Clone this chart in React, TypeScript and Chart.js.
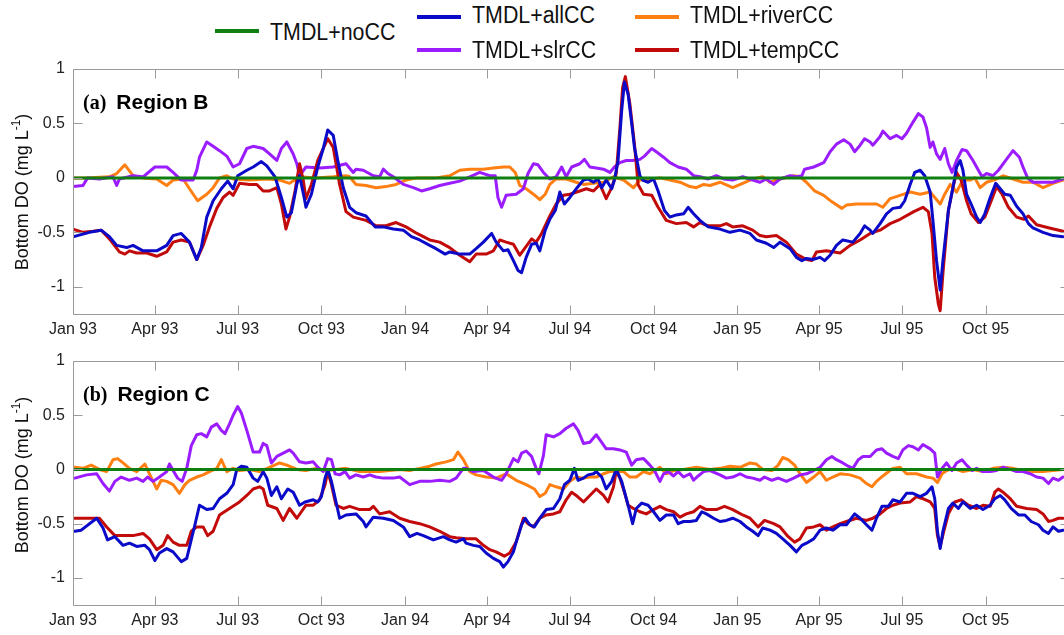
import React, { useEffect, useRef } from 'react';
import { Chart, registerables } from 'chart.js';

Chart.register(...registerables);

// ---------- DATA (day offsets from 1 Jan 1993, bottom DO difference in mg/L) ----------
const quarterTickDays = [0, 90, 181, 273, 365, 455, 546, 638, 730, 820, 911, 1003];
const quarterTickLabels = ['Jan 93', 'Apr 93', 'Jul 93', 'Oct 93', 'Jan 94', 'Apr 94', 'Jul 94', 'Oct 94', 'Jan 95', 'Apr 95', 'Jul 95', 'Oct 95'];
const yTickValues = [-1, -0.5, 0, 0.5, 1];
const yTickLabels = ['-1', '-0.5', '0', '0.5', '1'];
const seriesNames = ['TMDL+noCC', 'TMDL+allCC', 'TMDL+riverCC', 'TMDL+slrCC', 'TMDL+tempCC'];

const noCC = [[0, 0], [1095, 0]];

const regionB_allCC = [
  [0, -0.54], [18, -0.5], [31, -0.48], [40, -0.54], [48, -0.62], [59, -0.64], [66, -0.62], [77, -0.67], [92, -0.67], [103, -0.62],
  [110, -0.53], [119, -0.51], [128, -0.59], [136, -0.75], [141, -0.64], [147, -0.36], [154, -0.21], [163, -0.1], [170, -0.03], [176, -0.1],
  [181, 0.02], [191, 0.07], [198, 0.1], [207, 0.15], [213, 0.11], [222, 0.01], [229, -0.18], [235, -0.36], [240, -0.32], [246, -0.06],
  [249, 0.02], [254, -0.18], [256, -0.27], [262, -0.15], [269, 0.1], [275, 0.27], [280, 0.44], [286, 0.39], [291, 0.16], [297, -0.09],
  [304, -0.27], [311, -0.32], [322, -0.35], [332, -0.45], [341, -0.45], [352, -0.47], [363, -0.48], [372, -0.54], [381, -0.57], [392, -0.62],
  [399, -0.65], [409, -0.7], [414, -0.68], [425, -0.7], [436, -0.7], [443, -0.65], [451, -0.59], [460, -0.51], [465, -0.59], [473, -0.67],
  [478, -0.66], [484, -0.76], [489, -0.85], [493, -0.87], [498, -0.73], [504, -0.61], [509, -0.6], [513, -0.67], [519, -0.48], [524, -0.38],
  [530, -0.3], [535, -0.13], [540, -0.24], [546, -0.18], [553, -0.1], [561, -0.02], [566, -0.01], [572, -0.04], [577, -0.01], [581, -0.09],
  [586, -0.02], [592, -0.1], [595, -0.02], [599, 0.16], [603, 0.62], [606, 0.88], [610, 0.77], [614, 0.5], [617, 0.28], [623, 0.02],
  [626, -0.02], [632, -0.04], [638, -0.01], [643, -0.12], [650, -0.3], [656, -0.36], [663, -0.34], [671, -0.33], [676, -0.27], [682, -0.33],
  [689, -0.39], [698, -0.45], [711, -0.47], [722, -0.5], [733, -0.48], [744, -0.51], [751, -0.57], [762, -0.6], [770, -0.64], [777, -0.59],
  [788, -0.65], [795, -0.73], [801, -0.76], [806, -0.74], [813, -0.75], [821, -0.73], [826, -0.76], [832, -0.71], [839, -0.62], [846, -0.57],
  [857, -0.59], [865, -0.51], [870, -0.44], [876, -0.48], [879, -0.51], [887, -0.42], [894, -0.33], [901, -0.28], [909, -0.27], [914, -0.21],
  [920, -0.06], [925, 0.05], [931, 0.07], [936, 0.02], [942, -0.13], [945, -0.39], [949, -0.76], [953, -1.03], [956, -0.76], [962, -0.3],
  [967, -0.09], [971, 0.1], [975, 0.16], [978, 0.07], [982, -0.15], [987, -0.24], [993, -0.36], [997, -0.41], [1002, -0.33], [1008, -0.18],
  [1014, -0.05], [1019, -0.1], [1024, -0.15], [1030, -0.16], [1037, -0.26], [1044, -0.33], [1050, -0.42], [1055, -0.46], [1066, -0.5], [1077, -0.53], [1088, -0.54],
];

const regionB_tempCC = [
  [0, -0.47], [11, -0.5], [22, -0.49], [31, -0.48], [40, -0.56], [51, -0.68], [57, -0.7], [62, -0.67], [70, -0.69], [81, -0.69],
  [92, -0.72], [103, -0.68], [110, -0.59], [119, -0.57], [128, -0.59], [136, -0.75], [143, -0.62], [150, -0.45], [158, -0.28], [165, -0.18],
  [172, -0.13], [176, -0.16], [183, -0.05], [194, -0.06], [202, -0.06], [209, -0.12], [216, -0.12], [224, -0.09], [229, -0.24], [234, -0.47],
  [238, -0.36], [244, -0.12], [249, 0.13], [253, -0.02], [256, -0.19], [262, -0.06], [269, 0.16], [280, 0.36], [286, 0.28], [293, -0.06],
  [300, -0.31], [308, -0.36], [322, -0.39], [333, -0.44], [344, -0.44], [355, -0.41], [366, -0.45], [378, -0.51], [392, -0.57], [403, -0.59],
  [414, -0.64], [425, -0.71], [436, -0.77], [443, -0.7], [454, -0.7], [462, -0.67], [469, -0.57], [476, -0.59], [484, -0.61], [491, -0.71],
  [497, -0.64], [504, -0.56], [509, -0.59], [515, -0.51], [524, -0.35], [531, -0.24], [539, -0.16], [546, -0.15], [557, -0.12], [564, -0.1],
  [572, -0.12], [579, -0.06], [586, -0.19], [592, -0.09], [597, 0.04], [601, 0.46], [604, 0.83], [607, 0.93], [612, 0.68], [617, 0.31],
  [621, -0.06], [627, -0.15], [636, -0.16], [643, -0.27], [652, -0.39], [663, -0.42], [674, -0.41], [682, -0.45], [689, -0.41], [698, -0.44],
  [711, -0.44], [718, -0.42], [725, -0.45], [736, -0.44], [747, -0.48], [755, -0.53], [762, -0.54], [773, -0.53], [784, -0.59], [795, -0.7],
  [806, -0.75], [812, -0.76], [817, -0.68], [828, -0.67], [843, -0.69], [854, -0.62], [865, -0.57], [876, -0.51], [887, -0.48], [898, -0.42],
  [909, -0.38], [924, -0.31], [934, -0.27], [940, -0.31], [944, -0.51], [947, -0.91], [951, -1.16], [953, -1.22], [956, -0.88], [962, -0.3],
  [967, -0.09], [971, 0.05], [976, -0.02], [982, -0.21], [987, -0.33], [995, -0.41], [1002, -0.36], [1010, -0.19], [1015, -0.08], [1021, -0.15],
  [1028, -0.27], [1037, -0.36], [1045, -0.38], [1050, -0.35], [1059, -0.43], [1073, -0.46], [1088, -0.49],
];

const regionB_slrCC = [
  [0, -0.08], [11, -0.07], [16, 0], [29, -0.01], [44, 0.01], [48, -0.07], [51, -0.01], [66, 0.02], [77, 0.01], [90, 0.1],
  [103, 0.1], [110, 0.05], [119, -0.02], [132, -0.02], [136, 0.07], [139, 0.19], [147, 0.33], [154, 0.29], [161, 0.25], [169, 0.2],
  [176, 0.1], [183, 0.13], [191, 0.27], [198, 0.29], [209, 0.27], [216, 0.22], [224, 0.16], [229, 0.27], [235, 0.33], [242, 0.22],
  [246, 0.13], [249, 0.02], [256, 0.1], [271, 0.09], [286, 0.1], [300, 0.13], [308, 0.05], [311, 0.08], [319, 0.07], [330, 0.02],
  [337, 0.01], [341, 0.08], [346, 0.04], [352, 0.01], [363, -0.06], [374, -0.09], [383, -0.12], [392, -0.1], [403, -0.07], [414, -0.05],
  [425, -0.03], [436, 0.01], [447, 0.05], [458, 0.02], [464, 0.02], [467, -0.18], [471, -0.27], [476, -0.16], [487, -0.15], [495, -0.1],
  [500, 0.04], [506, 0.13], [511, 0.12], [517, 0.05], [524, -0.01], [531, 0.01], [537, 0.1], [542, 0.01], [548, 0.1], [557, 0.13],
  [562, 0.17], [568, 0.1], [575, 0.09], [583, 0.08], [590, 0.05], [595, 0.1], [601, 0.14], [608, 0.16], [615, 0.16], [623, 0.17],
  [628, 0.2], [636, 0.27], [641, 0.24], [649, 0.19], [656, 0.14], [665, 0.1], [674, 0.08], [682, 0.02], [689, 0.01], [698, -0.01],
  [707, 0.02], [715, -0.01], [725, -0.02], [736, 0.01], [747, -0.02], [755, -0.04], [762, -0.01], [770, -0.06], [777, -0.01], [788, 0.02],
  [795, 0.01], [801, 0.02], [804, 0.08], [814, 0.1], [825, 0.14], [832, 0.24], [839, 0.31], [847, 0.35], [854, 0.31], [859, 0.24],
  [865, 0.3], [870, 0.36], [876, 0.33], [879, 0.3], [887, 0.38], [890, 0.43], [898, 0.36], [905, 0.39], [911, 0.36], [916, 0.41],
  [923, 0.51], [929, 0.59], [934, 0.56], [938, 0.46], [942, 0.28], [945, 0.33], [949, 0.22], [953, 0.17], [958, 0.27], [962, 0.13],
  [966, 0.05], [971, 0.16], [977, 0.26], [982, 0.25], [989, 0.16], [995, 0.07], [999, 0.01], [1004, 0.04], [1011, 0.02], [1017, 0.07],
  [1025, 0.16], [1033, 0.25], [1040, 0.19], [1044, 0.1], [1049, 0], [1055, -0.04], [1066, -0.04], [1077, -0.04], [1088, -0.01],
];

const regionB_riverCC = [
  [0, 0], [15, 0], [40, 0.01], [48, 0.04], [57, 0.12], [66, 0.02], [77, 0], [92, -0.01], [103, -0.07], [110, -0.02],
  [121, -0.01], [128, -0.1], [137, -0.21], [147, -0.15], [154, -0.09], [161, 0], [169, 0.02], [176, -0.01], [194, -0.02], [213, -0.01],
  [227, -0.02], [238, -0.05], [249, 0.01], [267, 0], [286, 0.01], [300, 0.02], [304, 0.01], [311, -0.06], [322, -0.07], [333, -0.09],
  [344, -0.08], [355, -0.06], [366, -0.02], [378, 0], [388, 0], [399, 0], [414, 0.02], [425, 0.07], [436, 0.08], [451, 0.08],
  [462, 0.09], [473, 0.1], [480, 0.1], [486, 0.05], [491, -0.07], [498, -0.1], [506, -0.15], [513, -0.2], [519, -0.15], [524, -0.06],
  [531, -0.01], [542, -0.01], [553, -0.04], [561, -0.06], [572, -0.05], [583, -0.04], [594, 0.01], [605, -0.02], [616, -0.09], [623, -0.02],
  [634, -0.01], [645, 0], [656, -0.02], [667, -0.04], [678, -0.08], [685, -0.09], [693, -0.06], [700, -0.07], [711, -0.04], [725, -0.09],
  [736, -0.05], [747, -0.01], [758, 0.01], [766, -0.04], [777, -0.01], [792, 0.02], [799, 0.01], [806, -0.04], [815, -0.12], [825, -0.16],
  [834, -0.22], [845, -0.28], [850, -0.25], [861, -0.24], [872, -0.24], [883, -0.24], [890, -0.27], [898, -0.19], [909, -0.16], [920, -0.13],
  [931, -0.15], [942, -0.13], [947, -0.18], [953, -0.24], [958, -0.15], [964, -0.06], [971, -0.13], [978, -0.02], [986, -0.02], [991, 0],
  [997, -0.09], [1004, -0.04], [1015, -0.01], [1022, 0.02], [1033, -0.01], [1044, -0.04], [1055, -0.04], [1066, -0.09], [1077, -0.05], [1088, -0.02],
];

const regionC_allCC = [
  [2, -0.57], [9, -0.56], [26, -0.45], [33, -0.54], [38, -0.65], [46, -0.62], [55, -0.7], [62, -0.68], [70, -0.71], [79, -0.7],
  [84, -0.74], [90, -0.84], [95, -0.77], [103, -0.73], [110, -0.76], [119, -0.85], [125, -0.82], [134, -0.51], [139, -0.33], [147, -0.37],
  [154, -0.36], [161, -0.27], [169, -0.22], [176, -0.14], [180, 0], [185, 0.03], [191, 0.02], [198, -0.08], [203, -0.11], [209, -0.02],
  [213, -0.08], [218, -0.24], [224, -0.16], [229, -0.27], [236, -0.18], [242, -0.21], [249, -0.33], [255, -0.3], [264, -0.28], [269, -0.3],
  [273, -0.25], [277, -0.08], [280, 0], [284, -0.11], [293, -0.45], [300, -0.42], [311, -0.41], [319, -0.48], [322, -0.53], [330, -0.44],
  [341, -0.45], [352, -0.47], [363, -0.53], [370, -0.62], [378, -0.59], [385, -0.61], [396, -0.65], [407, -0.62], [414, -0.65], [421, -0.67],
  [429, -0.64], [432, -0.68], [440, -0.7], [447, -0.71], [454, -0.77], [462, -0.82], [469, -0.85], [473, -0.9], [478, -0.85], [484, -0.76],
  [487, -0.67], [493, -0.51], [497, -0.45], [502, -0.51], [507, -0.53], [513, -0.45], [520, -0.37], [528, -0.36], [535, -0.27], [540, -0.14],
  [546, -0.1], [551, 0.01], [555, -0.1], [561, -0.08], [566, -0.05], [572, -0.04], [575, -0.02], [581, -0.07], [586, -0.18], [592, -0.11],
  [597, 0], [603, -0.11], [610, -0.33], [615, -0.5], [619, -0.36], [625, -0.31], [632, -0.33], [638, -0.39], [645, -0.47], [652, -0.42],
  [660, -0.42], [665, -0.5], [671, -0.48], [678, -0.48], [685, -0.47], [691, -0.39], [696, -0.41], [704, -0.45], [711, -0.48], [718, -0.47],
  [725, -0.45], [733, -0.48], [740, -0.53], [747, -0.57], [753, -0.61], [758, -0.54], [766, -0.56], [773, -0.59], [780, -0.64], [788, -0.7],
  [795, -0.76], [801, -0.7], [806, -0.68], [814, -0.64], [821, -0.56], [828, -0.54], [835, -0.56], [843, -0.51], [850, -0.51], [859, -0.41],
  [865, -0.45], [872, -0.51], [878, -0.56], [883, -0.45], [889, -0.34], [896, -0.34], [901, -0.28], [909, -0.3], [916, -0.22], [923, -0.22],
  [931, -0.25], [938, -0.22], [944, -0.16], [947, -0.27], [950, -0.57], [953, -0.73], [956, -0.57], [962, -0.36], [967, -0.31], [973, -0.36],
  [978, -0.3], [986, -0.36], [993, -0.33], [1000, -0.37], [1008, -0.33], [1013, -0.27], [1019, -0.24], [1024, -0.28], [1031, -0.36], [1039, -0.42],
  [1046, -0.42], [1053, -0.48], [1061, -0.51], [1066, -0.56], [1072, -0.59], [1077, -0.53], [1083, -0.57], [1088, -0.56],
];

const regionC_tempCC = [
  [2, -0.45], [15, -0.45], [29, -0.45], [37, -0.53], [46, -0.61], [55, -0.61], [66, -0.61], [77, -0.59], [84, -0.64], [92, -0.74],
  [99, -0.7], [104, -0.61], [110, -0.67], [117, -0.7], [125, -0.7], [130, -0.57], [136, -0.53], [143, -0.53], [148, -0.61], [154, -0.57],
  [161, -0.42], [172, -0.36], [183, -0.3], [191, -0.24], [198, -0.18], [205, -0.16], [209, -0.18], [214, -0.33], [224, -0.36], [231, -0.47],
  [238, -0.36], [246, -0.45], [251, -0.39], [256, -0.33], [264, -0.33], [271, -0.28], [277, -0.14], [280, -0.02], [284, -0.14], [289, -0.33],
  [297, -0.36], [304, -0.34], [315, -0.37], [326, -0.37], [330, -0.34], [337, -0.41], [348, -0.39], [359, -0.45], [370, -0.48], [381, -0.5],
  [392, -0.53], [403, -0.57], [414, -0.62], [421, -0.63], [432, -0.64], [443, -0.64], [451, -0.7], [458, -0.74], [465, -0.76], [474, -0.8],
  [480, -0.77], [487, -0.67], [495, -0.45], [500, -0.5], [506, -0.53], [513, -0.45], [520, -0.42], [528, -0.41], [535, -0.39], [542, -0.28],
  [548, -0.21], [553, -0.24], [561, -0.3], [568, -0.24], [575, -0.18], [583, -0.24], [588, -0.3], [594, -0.16], [597, -0.01], [601, -0.08],
  [606, -0.21], [610, -0.33], [616, -0.36], [623, -0.39], [630, -0.41], [638, -0.37], [645, -0.34], [652, -0.37], [660, -0.39], [667, -0.44],
  [674, -0.41], [682, -0.39], [689, -0.34], [696, -0.37], [707, -0.37], [716, -0.34], [725, -0.37], [736, -0.42], [744, -0.45], [753, -0.53],
  [760, -0.47], [770, -0.5], [777, -0.53], [786, -0.62], [793, -0.67], [799, -0.64], [806, -0.54], [814, -0.53], [821, -0.51], [828, -0.56],
  [835, -0.53], [843, -0.5], [850, -0.48], [861, -0.45], [872, -0.47], [879, -0.45], [887, -0.41], [894, -0.36], [901, -0.33], [909, -0.31],
  [920, -0.3], [927, -0.25], [934, -0.27], [942, -0.3], [947, -0.36], [950, -0.61], [953, -0.71], [957, -0.57], [962, -0.41], [969, -0.3],
  [976, -0.28], [984, -0.33], [993, -0.36], [1000, -0.33], [1008, -0.34], [1013, -0.21], [1017, -0.18], [1022, -0.21], [1030, -0.27], [1037, -0.34],
  [1048, -0.36], [1059, -0.37], [1066, -0.41], [1072, -0.48], [1077, -0.47], [1083, -0.45], [1088, -0.45],
];

const regionC_slrCC = [
  [2, -0.08], [15, -0.05], [26, -0.04], [33, -0.13], [40, -0.2], [46, -0.11], [53, -0.07], [62, -0.1], [70, -0.08], [77, -0.11],
  [82, -0.07], [88, -0.11], [95, -0.07], [103, -0.02], [106, 0.05], [110, -0.01], [115, -0.08], [120, -0.11], [125, 0.01], [130, 0.22],
  [136, 0.32], [141, 0.33], [147, 0.3], [152, 0.39], [158, 0.42], [163, 0.36], [167, 0.33], [172, 0.42], [176, 0.5], [181, 0.58],
  [185, 0.52], [191, 0.36], [198, 0.16], [205, 0.16], [209, 0.24], [213, 0.22], [218, 0.06], [224, 0.12], [231, 0.15], [238, 0.18],
  [242, 0.15], [249, 0.07], [256, 0.06], [264, 0.07], [269, 0.02], [275, -0.02], [280, 0.1], [284, 0.09], [288, -0.04], [293, -0.05],
  [299, -0.02], [304, -0.08], [311, -0.05], [319, -0.07], [326, -0.05], [333, -0.07], [341, -0.08], [352, -0.08], [359, -0.07], [370, -0.14],
  [381, -0.11], [392, -0.11], [403, -0.1], [414, -0.11], [421, -0.08], [429, 0.01], [432, 0.01], [440, -0.02], [451, -0.01], [462, -0.07],
  [471, -0.1], [476, -0.04], [484, 0.1], [489, 0.07], [493, 0.15], [498, 0.17], [504, 0.12], [509, 0.01], [512, -0.04], [517, 0.13],
  [520, 0.32], [528, 0.3], [535, 0.33], [542, 0.38], [550, 0.42], [555, 0.36], [561, 0.24], [568, 0.25], [575, 0.32], [581, 0.25],
  [586, 0.19], [594, 0.19], [601, 0.18], [608, 0.16], [614, 0.04], [619, 0.09], [627, 0.1], [634, 0.04], [639, -0.01], [645, -0.11],
  [649, -0.04], [654, -0.02], [660, -0.06], [665, -0.02], [671, -0.07], [678, -0.04], [682, -0.1], [687, -0.06], [693, -0.02], [700, -0.01],
  [711, -0.05], [718, -0.08], [725, -0.07], [733, -0.04], [740, -0.07], [747, -0.08], [755, -0.1], [760, -0.07], [768, -0.1], [775, -0.08],
  [784, -0.11], [792, -0.08], [799, -0.05], [806, -0.04], [814, -0.01], [821, 0.02], [828, 0.09], [834, 0.12], [839, 0.09], [846, 0.06],
  [852, 0.03], [857, 0.01], [863, 0.09], [868, 0.12], [876, 0.12], [883, 0.18], [889, 0.19], [894, 0.15], [901, 0.12], [907, 0.1],
  [912, 0.18], [918, 0.22], [923, 0.21], [929, 0.18], [934, 0.23], [942, 0.19], [947, 0.15], [950, -0.07], [955, 0.01], [960, 0.06],
  [966, -0.01], [971, 0.06], [977, 0.09], [982, 0.04], [988, -0.01], [993, 0.01], [1000, -0.02], [1008, -0.02], [1015, -0.01], [1022, 0.02],
  [1030, 0], [1037, -0.02], [1044, -0.02], [1052, -0.04], [1059, -0.07], [1066, -0.08], [1072, -0.13], [1077, -0.08], [1083, -0.1], [1088, -0.07],
];

const regionC_riverCC = [
  [2, 0.02], [11, 0.01], [20, 0.04], [29, 0], [37, -0.02], [44, 0.09], [49, 0.1], [55, 0.06], [62, 0.01], [70, -0.02],
  [79, 0.05], [84, -0.04], [88, -0.11], [92, -0.18], [97, -0.1], [103, -0.11], [110, -0.14], [117, -0.22], [123, -0.14], [128, -0.1],
  [136, -0.07], [143, -0.05], [150, -0.02], [158, 0.01], [163, 0.09], [169, -0.02], [176, 0.01], [183, -0.01], [194, 0], [205, -0.02],
  [216, 0.02], [227, 0.06], [235, 0.04], [246, 0], [256, -0.01], [267, 0.01], [278, -0.01], [289, 0], [300, 0.01], [315, -0.02],
  [326, -0.02], [337, -0.02], [348, -0.01], [359, 0], [370, -0.01], [381, 0.01], [392, 0.03], [399, 0.05], [410, 0.07], [418, 0.09],
  [423, 0.16], [429, 0.09], [436, -0.02], [443, -0.05], [454, -0.07], [465, -0.08], [476, -0.04], [487, -0.1], [498, -0.14], [507, -0.18],
  [513, -0.25], [519, -0.22], [524, -0.14], [531, -0.16], [539, -0.18], [546, -0.11], [553, -0.07], [561, -0.08], [568, -0.07], [575, -0.07],
  [583, -0.04], [590, -0.02], [597, -0.02], [605, -0.02], [612, -0.07], [619, -0.07], [627, -0.02], [634, -0.04], [645, 0.02], [652, -0.04],
  [660, -0.01], [671, 0], [685, 0.02], [693, 0.01], [700, 0], [711, 0.01], [722, 0.03], [733, 0.02], [744, 0.06], [751, 0.05],
  [758, 0], [768, -0.01], [775, 0.04], [780, 0.11], [786, 0.09], [793, 0.04], [799, -0.04], [806, -0.12], [814, -0.07], [821, -0.02],
  [828, -0.1], [835, -0.07], [843, -0.04], [854, -0.05], [865, -0.08], [872, -0.13], [878, -0.16], [883, -0.11], [890, -0.06], [901, 0.01],
  [909, 0.02], [916, -0.04], [927, -0.04], [938, -0.07], [945, -0.08], [950, -0.12], [955, -0.04], [960, -0.01], [967, 0.01], [978, -0.02],
  [989, 0], [1000, -0.02], [1011, 0.01], [1022, 0.02], [1033, 0.01], [1044, -0.01], [1055, -0.02], [1066, -0.02], [1077, -0.01], [1088, 0],
];

// ---------- STYLE ----------
const COLORS = {
  noCC: '#0f7f12',
  allCC: '#0a0ac8',
  riverCC: '#ff7f12',
  slrCC: '#9a1cff',
  tempCC: '#c20a0a',
};
const SANS = "'Liberation Sans', Arial, Helvetica, sans-serif";
const SERIF = "'Liberation Serif', 'Times New Roman', serif";

const toPts = (pairs: number[][]) => pairs.map(([d, v]) => ({ x: d, y: v }));

const boxTicksPlugin = {
  id: 'boxTicks',
  afterDatasetsDraw(chart: any) {
    const { ctx, chartArea: a, scales } = chart;
    const xs = scales.x;
    const ys = scales.y;
    const L = 9;
    ctx.save();
    ctx.strokeStyle = '#9a9a9a';
    ctx.lineWidth = 1;
    ctx.beginPath();
    const l = Math.round(a.left) + 0.5;
    const r = Math.round(a.right) + 0.5;
    const t = Math.round(a.top) + 0.5;
    const b = Math.round(a.bottom) + 0.5;
    ctx.moveTo(l, t); ctx.lineTo(r, t); ctx.lineTo(r, b); ctx.lineTo(l, b); ctx.closePath();
    xs.ticks.forEach((tk: any) => {
      const px = Math.round(xs.getPixelForValue(tk.value)) + 0.5;
      ctx.moveTo(px, b); ctx.lineTo(px, b - L);
      ctx.moveTo(px, t); ctx.lineTo(px, t + L);
    });
    ys.ticks.forEach((tk: any) => {
      const py = Math.round(ys.getPixelForValue(tk.value)) + 0.5;
      ctx.moveTo(l, py); ctx.lineTo(l + L, py);
      ctx.moveTo(r, py); ctx.lineTo(r - L, py);
    });
    ctx.stroke();
    ctx.restore();
  },
};

function makeConfig(allCC: number[][], riverCC: number[][], slrCC: number[][], tempCC: number[][], xAxisH: number): any {
  const line = (label: string, data: number[][], color: string) => ({
    label,
    data: toPts(data),
    borderColor: color,
    backgroundColor: color,
    borderWidth: 3,
    pointRadius: 0,
    tension: 0,
    fill: false,
    borderJoinStyle: 'round',
    borderCapStyle: 'round',
  });
  const tickFont = { family: SANS, size: 16 };
  return {
    type: 'line',
    data: {
      datasets: [
        line(seriesNames[0], noCC, COLORS.noCC),
        line(seriesNames[1], allCC, COLORS.allCC),
        line(seriesNames[4], tempCC, COLORS.tempCC),
        line(seriesNames[3], slrCC, COLORS.slrCC),
        line(seriesNames[2], riverCC, COLORS.riverCC),
      ],
    },
    options: {
      responsive: false,
      animation: false,
      devicePixelRatio: 1,
      events: [],
      layout: { padding: { top: 9, right: 10.6, left: 0, bottom: 0 } },
      plugins: { legend: { display: false }, tooltip: { enabled: false }, title: { display: false } },
      scales: {
        x: {
          type: 'linear',
          min: 0,
          max: 1095,
          afterBuildTicks: (s: any) => { s.ticks = quarterTickDays.map((v) => ({ value: v })); },
          afterFit: (s: any) => { s.height = xAxisH; s.paddingLeft = 0; s.paddingRight = 0; },
          ticks: {
            autoSkip: false,
            maxRotation: 0,
            padding: 6,
            color: '#222222',
            font: tickFont,
            callback: (_v: any, i: number) => quarterTickLabels[i],
          },
          grid: { display: false, drawTicks: false },
          border: { display: false },
        },
        y: {
          type: 'linear',
          min: -1.25,
          max: 1,
          afterBuildTicks: (s: any) => { s.ticks = yTickValues.map((v) => ({ value: v })); },
          afterFit: (s: any) => { s.width = 73; s.paddingTop = 0; s.paddingBottom = 0; },
          ticks: {
            padding: 8,
            color: '#222222',
            font: tickFont,
            callback: (_v: any, i: number) => yTickLabels[i],
          },
          grid: { display: false, drawTicks: false },
          border: { display: false },
        },
      },
    },
    plugins: [boxTicksPlugin],
  };
}

function Panel(props: { top: number; xAxisH: number; series: number[][][] }) {
  const ref = useRef<HTMLCanvasElement | null>(null);
  useEffect(() => {
    if (!ref.current) return;
    const [a, r, s, t] = props.series;
    const chart = new Chart(ref.current, makeConfig(a, r, s, t, props.xAxisH));
    return () => chart.destroy();
  }, []);
  return (
    <canvas
      ref={ref}
      width={1080}
      height={290}
      style={{ position: 'absolute', left: 0, top: props.top, width: 1080, height: 290 }}
    />
  );
}

function LegendItem(props: { x: number; lineY: number; textTop: number; color: string; label: string }) {
  return (
    <>
      <div style={{ position: 'absolute', left: props.x, top: props.lineY - 2, width: 44, height: 4, background: props.color }} />
      <div
        style={{
          position: 'absolute', left: props.x + 55, top: props.textTop, fontFamily: SANS, fontSize: 23, lineHeight: '23px',
          color: '#111', whiteSpace: 'nowrap', transform: 'scaleX(0.93)', transformOrigin: 'left center',
        }}
      >
        {props.label}
      </div>
    </>
  );
}

function PanelTitle(props: { top: number; tag: string; name: string }) {
  return (
    <div style={{ position: 'absolute', left: 83, top: props.top, whiteSpace: 'nowrap', lineHeight: '21px', color: '#000' }}>
      <span style={{ fontFamily: SERIF, fontWeight: 'bold', fontSize: 20 }}>{props.tag}</span>
      <span style={{ fontFamily: SANS, fontWeight: 'bold', fontSize: 21, marginLeft: 10 }}>{props.name}</span>
    </div>
  );
}

function YLabel(props: { cy: number }) {
  const W = 240;
  const H = 18;
  return (
    <div
      style={{
        position: 'absolute', left: 22 - W / 2, top: props.cy - H / 2, width: W, height: H, lineHeight: '18px',
        textAlign: 'center', transform: 'rotate(-90deg)', transformOrigin: 'center center', fontFamily: SANS,
        fontSize: 18, color: '#111', whiteSpace: 'nowrap',
      }}
    >
      Bottom DO (mg L<sup style={{ fontSize: 12, lineHeight: 0, position: 'relative', top: -1 }}>-1</sup>)
    </div>
  );
}

export default function App() {
  return (
    <div style={{ position: 'absolute', left: 0, top: 0, width: 1064, height: 635, overflow: 'hidden', background: '#fff' }}>
      <Panel top={60} xAxisH={36} series={[regionB_allCC, regionB_riverCC, regionB_slrCC, regionB_tempCC]} />
      <Panel top={352} xAxisH={37} series={[regionC_allCC, regionC_riverCC, regionC_slrCC, regionC_tempCC]} />

      <LegendItem x={215} lineY={31} textTop={20.5} color={COLORS.noCC} label={seriesNames[0]} />
      <LegendItem x={417} lineY={17} textTop={3.8} color={COLORS.allCC} label={seriesNames[1]} />
      <LegendItem x={417} lineY={50} textTop={38.8} color={COLORS.slrCC} label={seriesNames[3]} />
      <LegendItem x={635} lineY={17} textTop={3.8} color={COLORS.riverCC} label={seriesNames[2]} />
      <LegendItem x={635} lineY={50} textTop={38.8} color={COLORS.tempCC} label={seriesNames[4]} />

      <PanelTitle top={90.5} tag="(a)" name="Region B" />
      <PanelTitle top={383} tag="(b)" name="Region C" />

      <YLabel cy={192} />
      <YLabel cy={475} />
    </div>
  );
}
